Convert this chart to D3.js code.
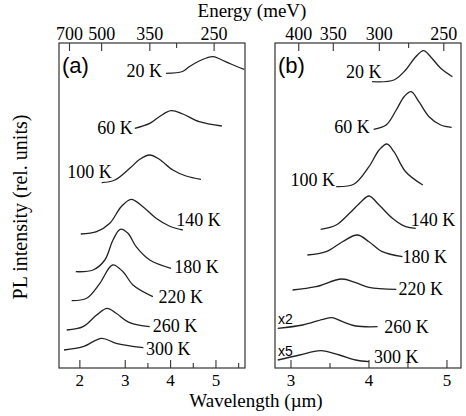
<!DOCTYPE html>
<html><head><meta charset="utf-8">
<script src="https://cdn.jsdelivr.net/npm/d3@7"></script>
<style>body{margin:0;background:#fff}svg{display:block}</style>
</head><body>
<svg id="c" width="466" height="416"></svg>
<script>
// ---- data ----
const temps = ["20 K","60 K","100 K","140 K","180 K","220 K","260 K","300 K"];
const energyMajorA = [700, 500, 350, 250];
const energyMinorA = [300];
const energyMajorB = [400, 350, 300, 250];
const energyMinorB = [275];
const wlMajorA = [2, 3, 4, 5];
const wlMinorA = [3.5, 4.5, 5.5];
const wlMajorB = [3, 4, 5];
const wlMinorB = [3.5, 4.5];
const multipliersB = ["", "", "", "", "", "", "x2", "x5"];
// wavelength (µm) and offset PL intensity (rel. units), panel (a)
const wavelengthA = [
  [3.90,4.26,4.41,4.63,4.79,4.94,5.11,5.33,5.62],
  [3.21,3.54,3.75,4.01,4.27,4.63,5.13],
  [2.48,2.77,3.10,3.32,3.54,3.75,4.05,4.34,4.67],
  [2.02,2.37,2.66,2.91,3.13,3.39,3.68,3.97,4.27],
  [1.91,2.29,2.55,2.73,2.89,3.06,3.24,3.54,4.01],
  [1.82,2.15,2.44,2.72,2.95,3.17,3.61],
  [1.71,2.07,2.37,2.60,2.80,3.10,3.54],
  [1.65,2.07,2.48,2.80,3.40]
];
const intensityA = [
  [294.7,296.5,301.3,307,310,311.3,308.5,304,298.7],
  [239.7,244.7,251.3,257.3,254,246.3,242],
  [185.3,188,199.7,208.7,213,208.7,198,192,188.7],
  [134,136.3,144.7,161.3,168.7,161.3,149.7,142,138],
  [96.3,98,108,128,138.7,134.7,121.3,108,99.7],
  [67.3,69.7,84.7,103,96.3,83,71.3],
  [38,41.3,53,59.7,54.7,45.3,41.3],
  [18,21.3,29.7,24.7,20.3]
];
// panel (b)
const wavelengthB = [
  [4.04,4.32,4.47,4.60,4.70,4.79,4.92,5.07],
  [4.06,4.22,4.35,4.45,4.54,4.64,4.77,4.92,5.06],
  [3.58,3.81,4.00,4.13,4.23,4.32,4.47,4.69],
  [3.38,3.58,3.75,3.90,4.00,4.13,4.30,4.47,4.60],
  [3.21,3.45,3.66,3.85,4.00,4.17,4.43],
  [3.02,3.32,3.65,3.83,4.00,4.35],
  [2.83,3.15,3.41,3.53,3.66,3.83,4.11],
  [2.83,3.11,3.38,3.62,3.83,4.00]
];
const intensityB = [
  [286.3,288,298,311.3,317.3,311.3,299.7,291.3],
  [238.7,243,258,271.3,276.3,266.3,251.3,243,240.7],
  [181.3,184,201.3,218,224,216.3,196.3,183],
  [138.7,143,154.7,166.3,172,163,149.7,141.3,139.7],
  [113,116.3,126.3,133,126.3,116.3,111.3],
  [78,81.3,89,85.3,80.7,78.7],
  [39.7,43,48.7,50.3,46.3,42,41.3],
  [8,13,17.3,13,8,6.3]
];

// ---- layout ----
const svg = d3.select("#c");
const serif = "'Liberation Serif','Times New Roman',serif";
const sans = "'Liberation Sans',Arial,sans-serif";
const yTop = 43, yBot = 368;
const y = d3.scaleLinear().domain([0, 325]).range([yBot, yTop]);

const panels = [
  {name:"(a)", x: d3.scaleLinear().domain([1.54, 5.64]).range([59, 245]),
   L: wavelengthA, I: intensityA, eMaj: energyMajorA, eMin: energyMinorA,
   wMaj: wlMajorA, wMin: wlMinorA,
   side: ["l","l","l","r","r","r","r","r"],
   off: [[-4,4],[-2,5.5],[10,-4.7],[-6.6,-4.3],[3.3,4.4],[5.7,6],[3,5],[2.7,7.3]],
   mult: null},
  {name:"(b)", x: d3.scaleLinear().domain([2.795, 5.18]).range([275, 461]),
   L: wavelengthB, I: intensityB, eMaj: energyMajorB, eMin: energyMinorB,
   wMaj: wlMajorB, wMin: wlMinorB,
   side: ["l","l","l","r","r","r","r","r"],
   off: [[9.3,-3.4],[-4,3.7],[-1.3,-0.7],[-5,-2.3],[0,6.3],[2.3,5.7],[6.7,6],[5,1.6]],
   mult: multipliersB}
];

const toWl = e => 1239.84 / e;

panels.forEach(p => {
  const x = p.x;
  const g = svg.append("g");
  const [x0, x1] = x.range();
  // frame
  g.append("rect").attr("x", x0).attr("y", yTop).attr("width", x1 - x0).attr("height", yBot - yTop)
    .attr("fill", "none").attr("stroke", "#333").attr("stroke-width", 1.2);
  // ticks (inward)
  const bt = g.append("g").attr("stroke", "#333").attr("stroke-width", 1.1);
  p.wMaj.forEach(v => bt.append("line").attr("x1", x(v)).attr("x2", x(v)).attr("y1", yBot).attr("y2", yBot - 8));
  p.wMin.forEach(v => bt.append("line").attr("x1", x(v)).attr("x2", x(v)).attr("y1", yBot).attr("y2", yBot - 5));
  p.eMaj.forEach(v => bt.append("line").attr("x1", x(toWl(v))).attr("x2", x(toWl(v))).attr("y1", yTop).attr("y2", yTop + 8));
  p.eMin.forEach(v => bt.append("line").attr("x1", x(toWl(v))).attr("x2", x(toWl(v))).attr("y1", yTop).attr("y2", yTop + 5));
  // tick labels
  p.wMaj.forEach(v => g.append("text").attr("x", x(v)).attr("y", 386).attr("text-anchor", "middle")
    .attr("font-family", serif).attr("font-size", 17).text(v));
  p.eMaj.forEach(v => g.append("text").attr("x", x(toWl(v))).attr("y", 39.5).attr("text-anchor", "middle")
    .attr("font-family", serif).attr("font-size", 18).text(v));
  // panel label
  g.append("text").attr("x", x0 + 3).attr("y", 73).attr("font-family", sans).attr("font-size", 22).text(p.name);
  // curves
  const line = d3.line().x(d => x(d[0])).y(d => y(d[1])).curve(d3.curveCatmullRom.alpha(0.5));
  p.L.forEach((ls, i) => {
    const pts = ls.map((l, j) => [l, p.I[i][j]]);
    g.append("path").attr("d", line(pts)).attr("fill", "none").attr("stroke", "#222").attr("stroke-width", 1.3);
    const left = p.side[i] === "l";
    const anchorPt = left ? pts[0] : pts[pts.length - 1];
    g.append("text").attr("x", x(anchorPt[0]) + p.off[i][0]).attr("y", y(anchorPt[1]) + p.off[i][1])
      .attr("text-anchor", left ? "end" : "start")
      .attr("font-family", serif).attr("font-size", 18).text(temps[i]);
    if (p.mult && p.mult[i]) {
      g.append("text").attr("x", x0 + 3).attr("y", y(pts[0][1]) - 4)
        .attr("font-family", sans).attr("font-size", 14).text(p.mult[i]);
    }
  });
});

// axis titles
svg.append("text").attr("x", 252).attr("y", 17).attr("text-anchor", "middle")
  .attr("font-family", serif).attr("font-size", 19).text("Energy (meV)");
svg.append("text").attr("x", 256).attr("y", 406.5).attr("text-anchor", "middle")
  .attr("font-family", serif).attr("font-size", 19).text("Wavelength (\u00b5m)");
svg.append("text").attr("transform", "translate(27,207) rotate(-90)").attr("text-anchor", "middle")
  .attr("font-family", serif).attr("font-size", 20).text("PL intensity (rel. units)");
</script>
</body></html>
